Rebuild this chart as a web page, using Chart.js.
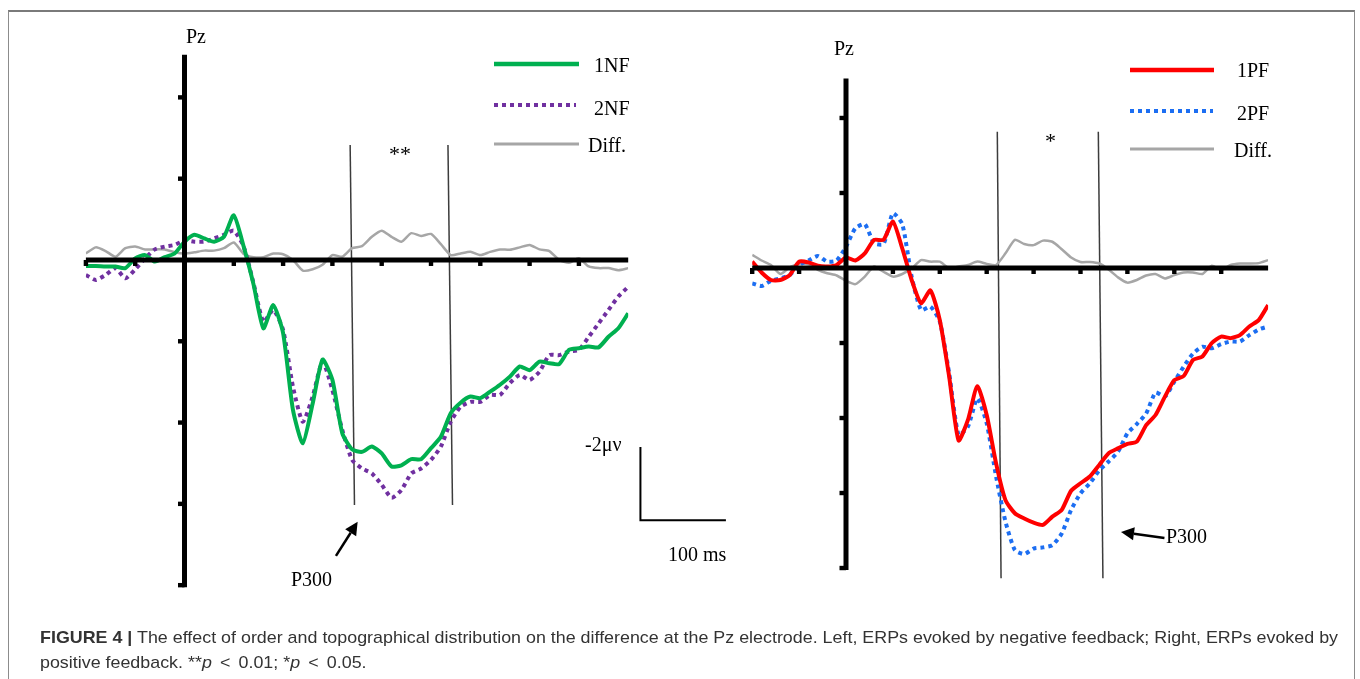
<!DOCTYPE html>
<html><head><meta charset="utf-8">
<script src="https://cdn.jsdelivr.net/npm/chart.js@4.4.1/dist/chart.umd.min.js"></script>
<style>
html,body{margin:0;padding:0;background:#fff;width:1360px;height:679px;overflow:hidden;position:relative;}
#frame{position:absolute;left:8px;top:10px;width:1347px;height:700px;border:1px solid #8c8c8c;border-top:2px solid #7a7a7a;box-sizing:border-box;}
canvas{position:absolute;left:0;top:0;}
.t{position:absolute;font-family:"Liberation Serif","Times New Roman",serif;font-size:20px;line-height:20px;color:#000;white-space:nowrap;}
.cap{position:absolute;left:40px;font-family:"Liberation Sans",Arial,sans-serif;font-size:17px;line-height:17px;color:#333;white-space:nowrap;transform-origin:0 0;}
.lt{margin:0 3px;}
</style></head><body>
<div id="frame"></div>
<canvas id="cL" width="1360" height="679"></canvas>
<canvas id="cR" width="1360" height="679"></canvas>
<svg width="1360" height="679" style="position:absolute;left:0;top:0">
  <line x1="494" y1="64" x2="579" y2="64" stroke="#00B050" stroke-width="4.5"/>
  <line x1="494" y1="105" x2="576" y2="105" stroke="#7030A0" stroke-width="4" stroke-dasharray="4 4"/>
  <line x1="494" y1="144" x2="579" y2="144" stroke="#A6A6A6" stroke-width="3"/>
  <line x1="1130" y1="70" x2="1214" y2="70" stroke="#FF0000" stroke-width="4.5"/>
  <line x1="1130" y1="111" x2="1213" y2="111" stroke="#1C6EF2" stroke-width="4" stroke-dasharray="4 4"/>
  <line x1="1130" y1="149" x2="1214" y2="149" stroke="#A6A6A6" stroke-width="3"/>
</svg>
<div class="t" style="left:186px;top:26px">Pz</div>
<div class="t" style="left:594px;top:55px">1NF</div>
<div class="t" style="left:594px;top:98px">2NF</div>
<div class="t" style="left:588px;top:135px">Diff.</div>
<div class="t" style="left:389px;top:144px;font-size:22px">**</div>
<div class="t" style="left:291px;top:569px">P300</div>
<div class="t" style="left:585px;top:434px">-2μν</div>
<div class="t" style="left:668px;top:544px">100 ms</div>
<div class="t" style="left:834px;top:38px">Pz</div>
<div class="t" style="left:1237px;top:60px">1PF</div>
<div class="t" style="left:1237px;top:103px">2PF</div>
<div class="t" style="left:1234px;top:140px">Diff.</div>
<div class="t" style="left:1045px;top:131px;font-size:22px">*</div>
<div class="t" style="left:1166px;top:526px">P300</div>
<div class="cap" id="cap1" style="top:629px"><b>FIGURE 4 |</b> The effect of order and topographical distribution on the difference at the Pz electrode. Left, ERPs evoked by negative feedback; Right, ERPs evoked by</div>
<div class="cap" id="cap2" style="top:654px">positive feedback. **<i>p</i> <span class="lt">&lt;</span> 0.01; *<i>p</i> <span class="lt">&lt;</span> 0.05.</div>
<script>
// time (ms)
const times = [-100,-90,-80,-70,-60,-50,-40,-30,-20,-10,0,10,20,30,40,50,60,70,80,90,100,110,120,130,140,150,160,170,180,190,200,210,220,230,240,250,260,270,280,290,300,310,320,330,340,350,360,370,380,390,400,410,420,430,440,450];
// Left panel (negative feedback), µV (positive plotted downward)
const nf1 = [0.15,0.15,0.16,0.16,0.2,-0.04,-0.12,0.04,-0.07,-0.16,
  -0.45,-0.62,-0.53,-0.45,-0.57,-1.1,-0.33,0.6,1.68,1.11,
  1.8,3.69,4.51,3.53,2.45,2.95,4.26,4.66,4.72,4.59,
  4.76,5.08,5.05,4.9,4.9,4.63,4.35,3.77,3.51,3.36,
  3.4,3.24,3.07,2.87,2.62,2.71,2.5,2.54,2.56,2.21,
  2.17,2.13,2.15,1.89,1.68,1.31];
const nf2 = [0.37,0.49,0.37,0.2,0.45,0.23,-0.04,-0.26,-0.33,-0.37,
  -0.48,-0.45,-0.45,-0.53,-0.62,-0.72,-0.33,0.57,1.52,1.23,
  1.72,3.12,3.98,3.36,2.5,3.2,4.18,4.92,5.13,5.25,
  5.53,5.85,5.66,5.25,5.13,4.92,4.59,3.98,3.61,3.49,
  3.49,3.32,3.32,3.03,2.83,2.95,2.75,2.34,2.34,2.25,
  2.21,1.89,1.56,1.23,0.9,0.66];
const nfDiff = [-0.16,-0.31,-0.22,-0.08,-0.29,-0.33,-0.26,-0.26,-0.26,-0.19,
  -0.16,-0.19,-0.23,-0.23,-0.29,-0.43,-0.15,-0.07,-0.07,-0.16,
  -0.14,0,0.26,0.23,0.12,-0.12,-0.08,-0.29,-0.34,-0.57,
  -0.72,-0.57,-0.45,-0.66,-0.59,-0.64,-0.39,-0.12,-0.16,-0.2,
  -0.12,-0.2,-0.26,-0.25,-0.31,-0.37,-0.26,-0.22,0,0.07,
  -0.04,0.16,0.2,0.2,0.25,0.2];
// Right panel (positive feedback)
const pf1 = [-0.17,0.12,0.32,0.32,0.19,-0.17,-0.15,-0.06,-0.04,-0.08,
  -0.28,-0.2,-0.39,-0.75,-0.75,-1.24,-0.52,0.32,0.94,0.6,
  1.39,2.9,4.6,4.05,3.15,3.92,5.21,6.19,6.54,6.68,
  6.79,6.85,6.63,6.45,5.94,5.74,5.56,5.25,4.94,4.81,
  4.69,4.63,4.19,3.92,3.43,2.99,2.88,2.45,2.36,2.0,
  1.83,1.87,1.79,1.56,1.39,0.99];
const pf2 = [0.41,0.48,0.34,0.28,0.19,-0.08,-0.2,-0.32,-0.17,-0.2,
  -0.57,-1.06,-1.17,-0.66,-0.64,-1.46,-1.17,0.23,1.12,1.03,
  1.43,2.81,4.45,4.23,3.48,4.14,5.56,6.76,7.52,7.63,
  7.48,7.45,7.39,7.08,6.45,6.01,5.74,5.4,5.16,4.9,
  4.41,4.16,3.88,3.32,3.43,3.03,2.63,2.28,2.1,2.14,
  2.03,1.96,1.96,1.79,1.64,1.56];
const pfDiff = [-0.35,-0.2,-0.08,0.16,-0.02,-0.11,-0.1,0.05,0.14,0.2,
  0.34,0.43,0.23,-0.04,0.1,0.23,0.16,0.01,-0.21,-0.17,
  -0.17,0.01,-0.04,-0.08,-0.17,-0.11,-0.08,-0.39,-0.75,-0.64,
  -0.61,-0.73,-0.7,-0.5,-0.28,-0.16,-0.16,-0.12,0.04,0.25,
  0.39,0.32,0.2,0.16,0.28,0.19,0.12,0.12,0.16,-0.06,
  0.05,-0.08,-0.12,-0.12,-0.13,-0.21];
// axis ticks
const xTicks = [-100,-50,50,100,150,200,250,300,350,400];
const yTicks = [-4,-2,2,4,6,8];
// P300 analysis windows [t at top, t at bottom]
const windowsL = [[168,172.4],[267.2,271.8]];
const windowsR = [[161.3,165.3],[269,273.9]];

function decor(cfg){
  return {
    id:'decor',
    beforeDatasetsDraw(chart){
      const {ctx, scales:{x,y}} = chart;
      ctx.save();
      ctx.strokeStyle='#3c3c3c'; ctx.lineWidth=1.5;
      cfg.windows.forEach(w=>{
        ctx.beginPath();
        ctx.moveTo(x.getPixelForValue(w[0]), y.getPixelForValue(cfg.winTop));
        ctx.lineTo(x.getPixelForValue(w[1]), y.getPixelForValue(cfg.winBottom));
        ctx.stroke();
      });
      ctx.restore();
    },
    afterDatasetsDraw(chart){
      const {ctx, chartArea:a, scales:{x,y}} = chart;
      const x0 = x.getPixelForValue(0), y0 = y.getPixelForValue(0);
      ctx.save();
      ctx.strokeStyle='#000'; ctx.fillStyle='#000'; ctx.lineWidth=5; ctx.lineCap='butt';
      ctx.beginPath(); ctx.moveTo(a.left,y0); ctx.lineTo(a.right,y0); ctx.stroke();
      ctx.beginPath(); ctx.moveTo(x0,a.top); ctx.lineTo(x0,a.bottom); ctx.stroke();
      xTicks.forEach(t=>{ const px=x.getPixelForValue(t); ctx.fillRect(px-2.2,y0,4.4,6); });
      yTicks.forEach(v=>{ const py=y.getPixelForValue(v); ctx.fillRect(x0-6.5,py-2.2,6.5,4.4); });
      // arrow
      const ar=cfg.arrow;
      const tx=x.getPixelForValue(ar.from[0]), ty=y.getPixelForValue(ar.from[1]);
      const hx=x.getPixelForValue(ar.to[0]), hy=y.getPixelForValue(ar.to[1]);
      const ang=Math.atan2(hy-ty,hx-tx), L=13, W=6.5;
      const bx=hx-L*Math.cos(ang), by=hy-L*Math.sin(ang);
      ctx.lineWidth=2.5;
      ctx.beginPath(); ctx.moveTo(tx,ty); ctx.lineTo(bx,by); ctx.stroke();
      ctx.beginPath(); ctx.moveTo(hx,hy);
      ctx.lineTo(bx+W*Math.sin(ang), by-W*Math.cos(ang));
      ctx.lineTo(bx-W*Math.sin(ang), by+W*Math.cos(ang));
      ctx.closePath(); ctx.fill();
      // scale bar
      if(cfg.bar){
        const b=cfg.bar;
        ctx.lineWidth=2;
        ctx.beginPath();
        ctx.moveTo(x.getPixelForValue(b.t), y.getPixelForValue(b.vTop));
        ctx.lineTo(x.getPixelForValue(b.t), y.getPixelForValue(b.v));
        ctx.lineTo(x.getPixelForValue(b.tEnd), y.getPixelForValue(b.v));
        ctx.stroke();
      }
      ctx.restore();
    }
  };
}

function makeChart(id, box, series, cfg){
  const ds = series.map(s=>({
    data: times.map((t,i)=>({x:t,y:s.values[i]})),
    borderColor:s.color, borderWidth:s.width, borderDash:s.dash||[],
    borderCapStyle:'butt', pointRadius:0, tension:0.2, fill:false, order:s.order
  }));
  return new Chart(document.getElementById(id), {
    type:'line',
    data:{datasets:ds},
    options:{
      responsive:false, animation:false, events:[],
      layout:{padding:{left:box.left, right:1360-box.right, top:box.top, bottom:679-box.bottom}},
      scales:{
        x:{type:'linear', min:-100, max:450, display:false},
        y:{type:'linear', min:-5.05, max:8.05, reverse:true, display:false}
      },
      plugins:{legend:{display:false}, tooltip:{enabled:false}}
    },
    plugins:[decor(cfg)]
  });
}

makeChart('cL', {left:85.9, right:628.2, top:54.7, bottom:587.2}, [
  {values:nf1, color:'#00B050', width:4, order:1},
  {values:nf2, color:'#7030A0', width:4, dash:[4,4], order:2},
  {values:nfDiff, color:'#A6A6A6', width:2.5, order:3}
], {windows:windowsL, winTop:-2.83, winBottom:6.03,
    arrow:{from:[153.6,7.28], to:[175.6,6.44]},
    bar:{t:462.4, tEnd:549.1, v:6.4, vTop:4.6}});

makeChart('cR', {left:752.2, right:1268.1, top:78.6, bottom:569.9}, [
  {values:pf1, color:'#FF0000', width:4, order:1},
  {values:pf2, color:'#1C6EF2', width:4, dash:[4,4], order:2},
  {values:pfDiff, color:'#A6A6A6', width:2.5, order:3}
], {windows:windowsR, winTop:-3.63, winBottom:8.27,
    arrow:{from:[339.5,7.2], to:[293.2,7.04]}});

// fit caption line 1 to the reference width; line 2 uses the same scale
const c1=document.getElementById('cap1'), c2=document.getElementById('cap2');
const s=1298/c1.getBoundingClientRect().width;
c1.style.transform='scaleX('+s+')';
c2.style.transform='scaleX('+s+')';
</script>
</body></html>
